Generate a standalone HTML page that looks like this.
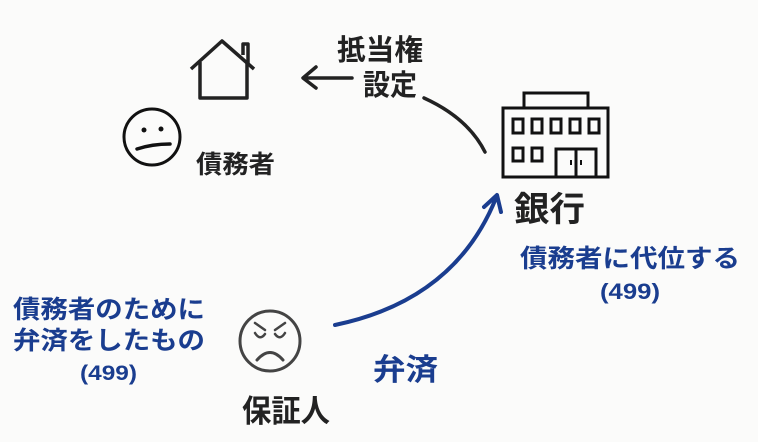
<!DOCTYPE html>
<html><head><meta charset="utf-8"><style>
body{margin:0;background:#fbfbfa}
svg{display:block}
text{font-family:"Liberation Sans","Noto Sans CJK JP",sans-serif;font-weight:bold}
</style></head><body>
<svg width="758" height="442" viewBox="0 0 758 442">
<rect width="758" height="442" fill="#fbfbfa"/>
<!-- house -->
<g fill="none" stroke="#222" stroke-width="3.5" stroke-linejoin="round">
<polyline points="191,69 222,41 254,69"/>
<polyline points="200,62 200,98 247,98 247,62"/>
<polyline points="243,55 243,44 248,44 248,64"/>
</g>
<!-- debtor face -->
<circle cx="152" cy="137" r="28" fill="none" stroke="#111" stroke-width="3"/>
<circle cx="144" cy="130" r="2.5" fill="#111"/><circle cx="161" cy="129" r="2.5" fill="#111"/>
<path d="M137 149 Q152 144 170 144" stroke="#111" stroke-width="3.5" fill="none" stroke-linecap="round"/>
<text x="196" y="173" font-size="25" fill="#222" textLength="79" lengthAdjust="spacingAndGlyphs">債務者</text>
<!-- mortgage -->
<text x="337" y="60" font-size="29" fill="#222" textLength="86" lengthAdjust="spacingAndGlyphs">抵当権</text>
<text x="363" y="95" font-size="29" fill="#222" textLength="54" lengthAdjust="spacingAndGlyphs">設定</text>
<path d="M304 78 L352 78 M316 67 L303 78 L316 88" stroke="#222" stroke-width="3.5" fill="none" stroke-linecap="round" stroke-linejoin="round"/>
<path d="M424 98 Q468 118 485 152" stroke="#222" stroke-width="3.5" fill="none" stroke-linecap="round"/>
<!-- bank -->
<g fill="none" stroke="#111" stroke-width="3">
<rect x="524" y="93" width="64" height="15"/>
<rect x="503" y="108" width="105" height="69"/>
<rect x="513" y="119" width="10" height="14"/><rect x="532" y="119" width="10" height="14"/><rect x="551" y="119" width="10" height="14"/><rect x="570" y="119" width="10" height="14"/><rect x="589" y="119" width="10" height="14"/>
<rect x="513" y="148" width="10" height="13"/><rect x="532" y="148" width="10" height="13"/>
<rect x="556" y="149" width="40" height="28"/><line x1="576" y1="149" x2="576" y2="177"/>
</g>
<line x1="571" y1="160" x2="571" y2="165" stroke="#111" stroke-width="2"/><line x1="581" y1="160" x2="581" y2="165" stroke="#111" stroke-width="2"/>
<text x="514" y="221" font-size="34" fill="#222" textLength="71" lengthAdjust="spacingAndGlyphs">銀行</text>
<text x="520" y="267" font-size="25" fill="#1a3d8f" textLength="220" lengthAdjust="spacingAndGlyphs">債務者に代位する</text>
<text x="600" y="299" font-size="22" fill="#1a3d8f" textLength="60" lengthAdjust="spacingAndGlyphs">(499)</text>
<!-- blue arrow -->
<path d="M335 325 Q455 300 496 198" stroke="#1a3d8f" stroke-width="4" fill="none" stroke-linecap="round"/>
<path d="M484 207 L497 195 L501 212" stroke="#1a3d8f" stroke-width="4" fill="none" stroke-linecap="round" stroke-linejoin="round"/>
<text x="373" y="380" font-size="30" fill="#1a3d8f" textLength="65" lengthAdjust="spacingAndGlyphs">弁済</text>
<!-- guarantor face -->
<circle cx="270" cy="341" r="30" fill="none" stroke="#444" stroke-width="3"/>
<path d="M255 323 L265 330 M285 323 L275 330" stroke="#444" stroke-width="2.5" fill="none" stroke-linecap="round"/>
<path d="M255 333 Q260 341 265 334 M275 334 Q280 341 285 333" stroke="#444" stroke-width="2.5" fill="none" stroke-linecap="round"/>
<path d="M257 360 Q270 345 283 360" stroke="#444" stroke-width="3" fill="none" stroke-linecap="round"/>
<text x="242" y="422" font-size="31" fill="#222" textLength="88" lengthAdjust="spacingAndGlyphs">保証人</text>
<!-- left text -->
<text x="13" y="318" font-size="25" fill="#1a3d8f" textLength="192" lengthAdjust="spacingAndGlyphs">債務者のために</text>
<text x="13" y="349" font-size="25" fill="#1a3d8f" textLength="192" lengthAdjust="spacingAndGlyphs">弁済をしたもの</text>
<text x="80" y="380" font-size="21" fill="#1a3d8f" textLength="57" lengthAdjust="spacingAndGlyphs">(499)</text>
</svg>
</body></html>
